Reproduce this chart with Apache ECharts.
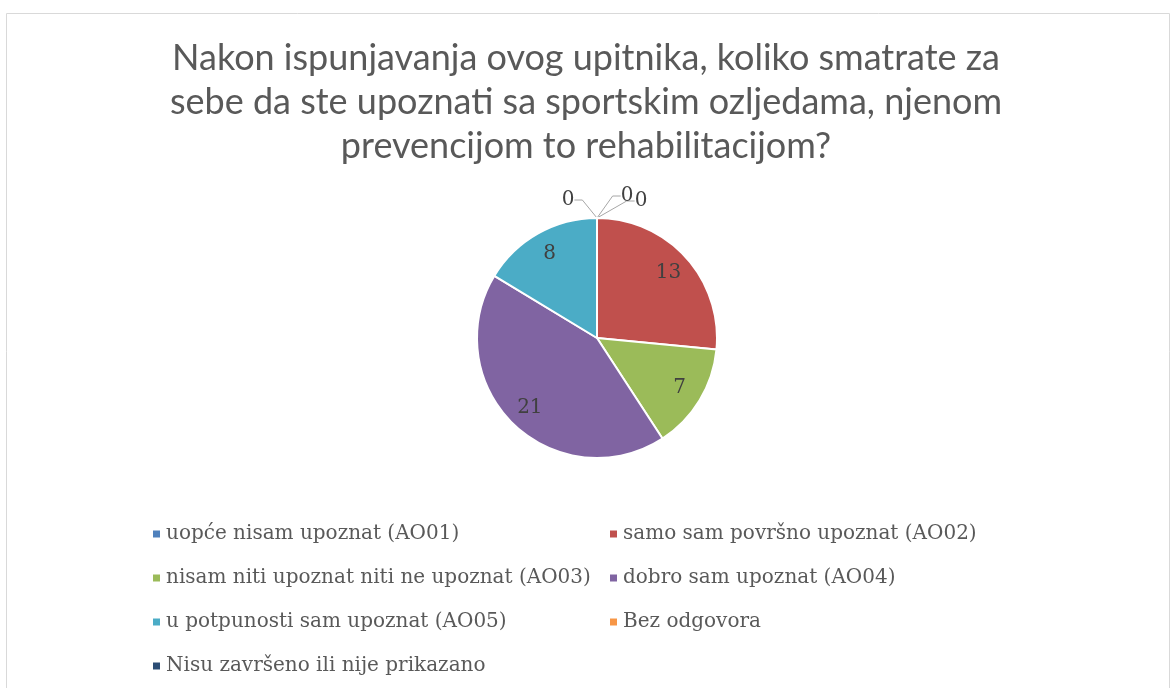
<!DOCTYPE html>
<html>
<head>
<meta charset="utf-8">
<script src="https://cdn.jsdelivr.net/npm/echarts@6/dist/echarts.min.js"></script>
<style>
  html, body { margin: 0; padding: 0; background: #fff; }
  #main { width: 1172px; height: 688px; }
</style>
</head>
<body>
<div id="main"></div>
<script>
// answers and counts
var categories = [
    'uopće nisam upoznat (AO01)',
    'samo sam površno upoznat (AO02)',
    'nisam niti upoznat niti ne upoznat (AO03)',
    'dobro sam upoznat (AO04)',
    'u potpunosti sam upoznat (AO05)',
    'Bez odgovora',
    'Nisu završeno ili nije prikazano'
];
var counts = [0, 13, 7, 21, 8, 0, 0];
var colors = ['#4F81BD', '#C0504D', '#9BBB59', '#8064A2', '#4BACC6', '#F79646', '#2C4D75'];
var titleText = 'Nakon ispunjavanja ovog upitnika, koliko smatrate za\nsebe da ste upoznati sa sportskim ozljedama, njenom\nprevencijom to rehabilitacijom?';

// where the three "0" labels sit around the top of the pie (offset from the pie centre)
var zeroLabelOffsets = { 0: [30, -142], 5: [44, -137], 6: [-29, -138] };

var chartDom = document.getElementById('main');
var myChart = echarts.init(chartDom);

var pieCenter = [597, 338];

var pieData = categories.map(function (name, i) {
    return { name: name, value: counts[i] };
});

var option = {
    animation: false,
    color: colors,
    graphic: [
        {
            type: 'rect',
            left: 4,
            top: 11,
            shape: { width: 1163, height: 700 },
            style: { fill: 'none', stroke: '#d9d9d9', lineWidth: 1 },
            silent: true
        }
    ],
    title: {
        text: titleText,
        left: 'center',
        top: 31,
        textStyle: {
            fontFamily: 'Lato',
            fontWeight: 'normal',
            fontSize: 36,
            lineHeight: 44,
            color: '#595959'
        }
    },
    legend: {
        data: categories,
        left: 151,
        top: 513,
        width: 930,
        padding: 0,
        icon: 'rect',
        itemWidth: 9,
        itemHeight: 9,
        itemGap: 2,
        textStyle: {
            fontFamily: 'DejaVu Serif',
            fontSize: 20,
            color: '#595959',
            width: 440,
            lineHeight: 42
        }
    },
    series: [
        {
            // slices, with the zero answers labelled outside
            name: 'odgovori',
            type: 'pie',
            center: pieCenter,
            radius: [0, 120],
            startAngle: 90,
            clockwise: true,
            avoidLabelOverlap: false,
            itemStyle: { borderColor: '#fff', borderWidth: 2 },
            label: {
                show: true,
                position: 'outside',
                formatter: function (p) { return p.value === 0 ? '0' : ''; },
                fontFamily: 'DejaVu Serif',
                fontSize: 20,
                color: '#404040'
            },
            labelLine: {
                show: true,
                length: 8,
                length2: 8,
                lineStyle: { color: '#a6a6a6', width: 1 }
            },
            labelLayout: function (params) {
                var off = zeroLabelOffsets[params.dataIndex];
                if (!off) return {};
                return {
                    x: pieCenter[0] + off[0],
                    y: pieCenter[1] + off[1],
                    align: 'center',
                    verticalAlign: 'middle'
                };
            },
            emphasis: { disabled: true },
            data: pieData.map(function (d) {
                return {
                    name: d.name,
                    value: d.value,
                    labelLine: { show: d.value === 0 }
                };
            })
        },
        {
            // transparent ring only used to place the inner value labels
            name: 'oznake',
            type: 'pie',
            center: pieCenter,
            radius: [67, 120],
            startAngle: 90,
            clockwise: true,
            silent: true,
            itemStyle: { color: 'rgba(0,0,0,0)' },
            label: {
                show: true,
                position: 'inside',
                formatter: function (p) { return p.value === 0 ? '' : String(p.value); },
                fontFamily: 'DejaVu Serif',
                fontSize: 20,
                color: '#404040'
            },
            labelLine: { show: false },
            emphasis: { disabled: true },
            data: pieData
        }
    ]
};

option && myChart.setOption(option);
</script>
</body>
</html>
